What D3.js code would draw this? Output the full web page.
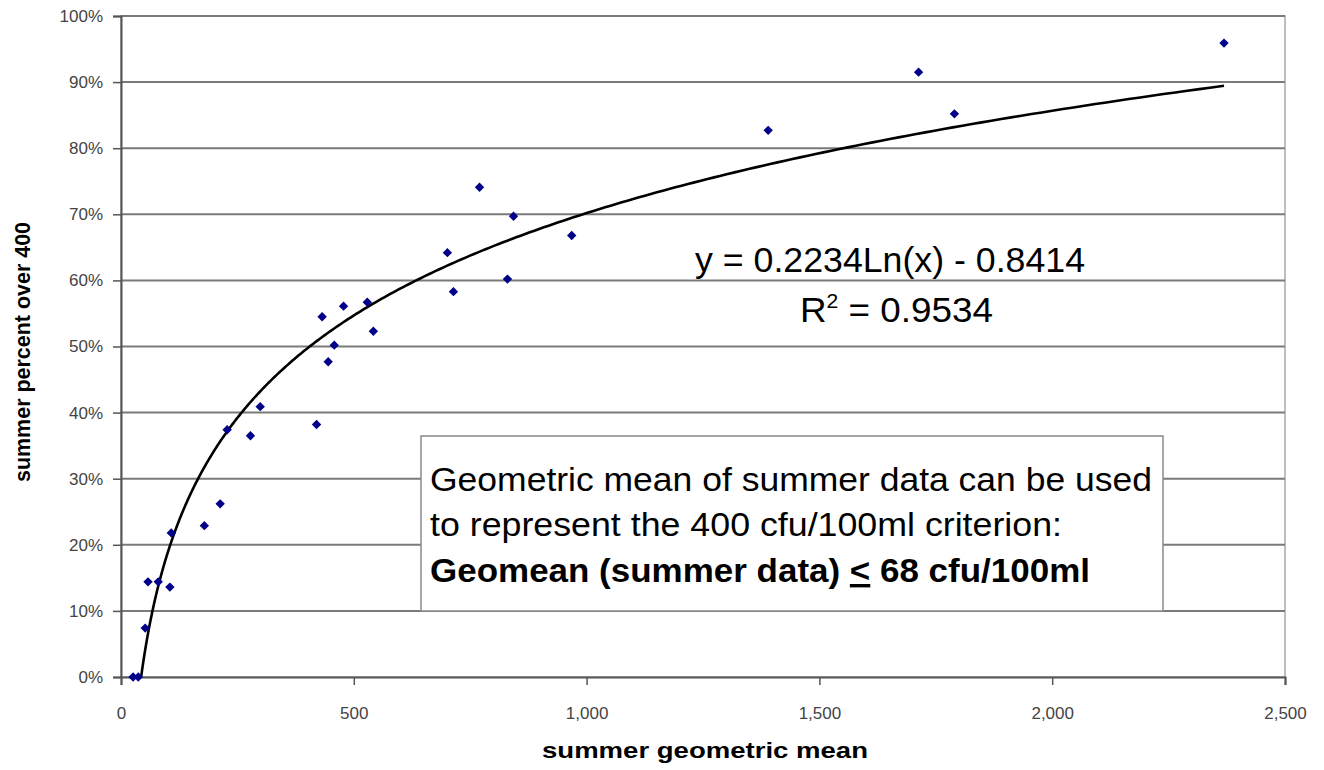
<!DOCTYPE html>
<html>
<head>
<meta charset="utf-8">
<script src="https://cdn.jsdelivr.net/npm/d3@7"></script>
<style>
  html, body { margin: 0; padding: 0; background: #fff; }
  svg { display: block; }
</style>
</head>
<body>
<svg id="chart" width="1324" height="770"></svg>
<script>
// ---- data ----
const geoMean = [26, 37, 52, 58, 80, 105, 108, 179, 213, 228, 278, 299, 420, 432, 445, 458, 478, 529, 542, 701, 714, 770, 830, 843, 968, 1390, 1713, 1790, 2369];
const pctOver = [0, 0, 0.074, 0.144, 0.144, 0.136, 0.218, 0.229, 0.262, 0.374, 0.365, 0.409, 0.382, 0.545, 0.477, 0.502, 0.561, 0.567, 0.523, 0.642, 0.583, 0.741, 0.602, 0.697, 0.668, 0.827, 0.915, 0.852, 0.959];
const xTicks = [0, 500, 1000, 1500, 2000, 2500];
const yTicks = [0, 0.1, 0.2, 0.3, 0.4, 0.5, 0.6, 0.7, 0.8, 0.9, 1.0];
const trendA = 0.2234, trendB = -0.8414;
const eqText = "y = 0.2234Ln(x) - 0.8414";
const r2Value = "0.9534";
const xTitle = "summer geometric mean";
const yTitle = "summer percent over 400";
const noteLines = ["Geometric mean of summer data can be used", "to represent the 400 cfu/100ml criterion:"];
const noteBold = ["Geomean (summer data) ", "<", " 68 cfu/100ml"];

// ---- layout ----
const L = 121, T = 16, R = 1285, B = 677;
const svg = d3.select("#chart");
const x = d3.scaleLinear().domain([0, 2500]).range([L, R]);
const y = d3.scaleLinear().domain([0, 1]).range([B, T]);
const font = "'Liberation Sans', Arial, sans-serif";

// plot border
svg.append("rect").attr("x", L).attr("y", T).attr("width", R - L).attr("height", B - T)
  .attr("fill", "none").attr("stroke", "#a8a8a8").attr("stroke-width", 1.5);

// gridlines
svg.append("g").selectAll("line").data(yTicks.slice(1)).join("line")
  .attr("x1", L).attr("x2", R).attr("y1", d => y(d)).attr("y2", d => y(d))
  .attr("stroke", "#7a7a7a").attr("stroke-width", 2);

// y axis
const yAxis = svg.append("g").attr("transform", `translate(${L},0)`)
  .call(d3.axisLeft(y).tickValues(yTicks).tickFormat(d3.format(".0%")).tickSize(8).tickPadding(10));
yAxis.select(".domain").attr("stroke", "#555").attr("stroke-width", 2);
yAxis.selectAll(".tick line").attr("stroke", "#555").attr("stroke-width", 1.5);
yAxis.selectAll("text").attr("font-family", font).attr("font-size", 17).attr("fill", "#444");

// x axis
const xAxis = svg.append("g").attr("transform", `translate(0,${B})`)
  .call(d3.axisBottom(x).tickValues(xTicks).tickFormat(d3.format(",")).tickSize(8).tickPadding(22));
xAxis.select(".domain").attr("stroke", "#555").attr("stroke-width", 2);
xAxis.selectAll(".tick line").attr("stroke", "#555").attr("stroke-width", 1.5);
xAxis.selectAll("text").attr("font-family", font).attr("font-size", 17).attr("fill", "#444");

// axis titles
svg.append("text").attr("x", 705).attr("y", 758).attr("text-anchor", "middle")
  .attr("font-family", font).attr("font-weight", "bold").attr("font-size", 22)
  .attr("textLength", 326).attr("lengthAdjust", "spacingAndGlyphs").text(xTitle);
svg.append("text").attr("transform", `translate(30,352) rotate(-90)`).attr("text-anchor", "middle")
  .attr("font-family", font).attr("font-weight", "bold").attr("font-size", 22)
  .attr("textLength", 260).attr("lengthAdjust", "spacingAndGlyphs").text(yTitle);

// text box
const box = svg.append("g");
box.append("rect").attr("x", 421).attr("y", 436).attr("width", 742).attr("height", 175)
  .attr("fill", "#fff").attr("stroke", "#8a8a8a").attr("stroke-width", 1.5);
box.append("text").attr("x", 430).attr("y", 491).attr("font-family", font).attr("font-size", 34)
  .attr("textLength", 722).attr("lengthAdjust", "spacingAndGlyphs").text(noteLines[0]);
box.append("text").attr("x", 430).attr("y", 536).attr("font-family", font).attr("font-size", 34)
  .attr("textLength", 632).attr("lengthAdjust", "spacingAndGlyphs").text(noteLines[1]);
const t3 = box.append("text").attr("x", 430).attr("y", 582).attr("font-family", font).attr("font-size", 34)
  .attr("font-weight", "bold").attr("textLength", 660).attr("lengthAdjust", "spacingAndGlyphs");
t3.append("tspan").text(noteBold[0]);
t3.append("tspan").attr("text-decoration", "underline").text(noteBold[1]);
t3.append("tspan").text(noteBold[2]);

// trendline
svg.append("clipPath").attr("id", "plotclip").append("rect")
  .attr("x", L).attr("y", T).attr("width", R - L).attr("height", B - T);
const xmin = d3.min(geoMean), xmax = d3.max(geoMean);
const samples = d3.range(0, 401).map(i => xmin * Math.pow(xmax / xmin, i / 400));
const line = d3.line().x(d => x(d)).y(d => y(trendA * Math.log(d) + trendB));
svg.append("path").datum(samples).attr("d", line).attr("clip-path", "url(#plotclip)")
  .attr("fill", "none").attr("stroke", "#000").attr("stroke-width", 2.6);

// points (diamonds)
const diamond = d3.symbol().type(d3.symbolSquare).size(44);
svg.append("g").selectAll("path").data(geoMean.map((g, i) => [g, pctOver[i]])).join("path")
  .attr("d", diamond)
  .attr("transform", d => `translate(${x(d[0])},${y(d[1])}) rotate(45)`)
  .attr("fill", "#000088");

// equation & R² (centred on each other, as the trendline label is)
svg.append("text").attr("x", 695).attr("y", 272).attr("font-family", font).attr("font-size", 35)
  .attr("textLength", 390).attr("lengthAdjust", "spacingAndGlyphs").text(eqText);
const r2 = svg.append("text").attr("x", 800).attr("y", 322).attr("font-family", font).attr("font-size", 35)
  .attr("textLength", 193).attr("lengthAdjust", "spacingAndGlyphs");
r2.append("tspan").text("R");
r2.append("tspan").attr("dy", -14).attr("font-size", 20).text("2");
r2.append("tspan").attr("dy", 14).text(" = " + r2Value);
</script>
</body>
</html>
